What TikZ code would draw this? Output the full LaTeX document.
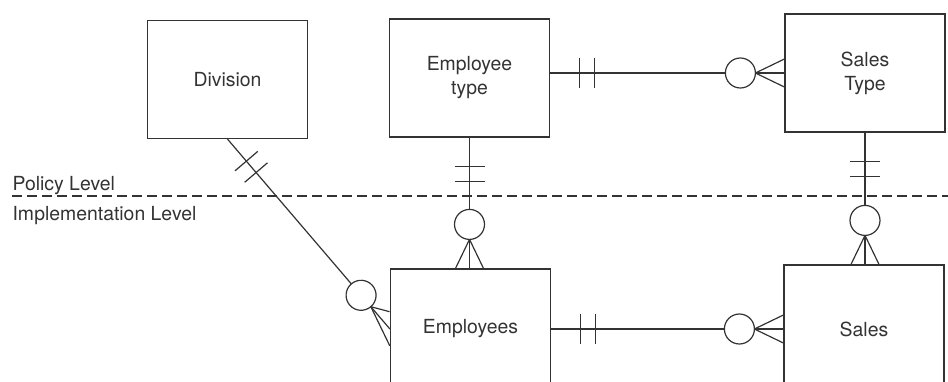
\documentclass[tikz,border=0pt]{standalone}
\usepackage{fontspec}
\setmainfont{TeX Gyre Heros}
\usepackage{xcolor}
\usepackage{tikz}
\usetikzlibrary{decorations.markings}

\begin{document}
\begin{tikzpicture}[x=0.5pt, y=-0.5pt, line width=0.6pt, color=black!80,
        every node/.style={font=\fontsize{9.7}{12}\selectfont}]
        % Define entity, level and relationship styles
        \tikzstyle{entity} = [rectangle, draw, align=center, minimum width=80pt, minimum height=59pt]
        \tikzstyle{levellabel} = [inner sep=0pt, anchor=base west]
        \tikzstyle{levelline} = [dash pattern=on 5pt off 2.5pt]
        \tikzstyle{mandatory} = [postaction={decorate, decoration={markings,
                mark=at position 14.5pt with {\draw (0,-7.5pt) -- (0,7.5pt);},
                mark=at position 22pt with {\draw (0,-7.5pt) -- (0,7.5pt);}}}]
        \tikzstyle{optmany} = [postaction={decorate, decoration={markings,
                mark=at position -22pt with {\draw[fill=white] (0,0) circle (7.5pt);
                    \draw (7.5pt,0) -- (22pt,7pt) (7.5pt,0) -- (22pt,-7pt);}}}]
        \tikzstyle{optmanyslant} = [postaction={decorate, decoration={markings,
                mark=at position -22pt with {\draw[fill=white] (0,0) circle (7.5pt);
                    \draw (7.5pt,0) -- (15.5pt,5.5pt) (7.5pt,0) -- (28.5pt,-5.5pt);}}}]

        \useasboundingbox (0,0) rectangle (948,381);

        % Entities
        \node (div) [entity] at (227.5,79.5) {Division};
        \node (et) [entity] at (469.5,78) {Employee\\type};
        \node (st) [entity] at (865,73) {Sales\\Type};
        \node (emp) [entity, minimum height=60pt] at (470.5,329) {Employees};
        \node (sa) [entity, minimum height=64pt] at (864,329) {Sales};

        % Level boundary
        \coordinate (lvlstart) at (12,196);
        \coordinate (lvlend) at (948,196);
        \draw [levelline] (lvlstart) -- (lvlend);
        \node (policy) [levellabel] at (12,190) {Policy Level};
        \node (impl) [levellabel] at (12,220) {Implementation Level};

        % Relationships
        \draw [mandatory, optmanyslant] (div.south) -- (emp.west);
        \draw [mandatory, optmany] (st.west -| et.east) -- (st.west);
        \draw [mandatory, optmany] (et.south) -- (et.south |- emp.north);
        \draw [mandatory, optmany] (st.south) -- (st.south |- sa.north);
        \draw [mandatory, optmany] (emp.east |- sa.west) -- (sa.west);
    \end{tikzpicture}
\end{document}
